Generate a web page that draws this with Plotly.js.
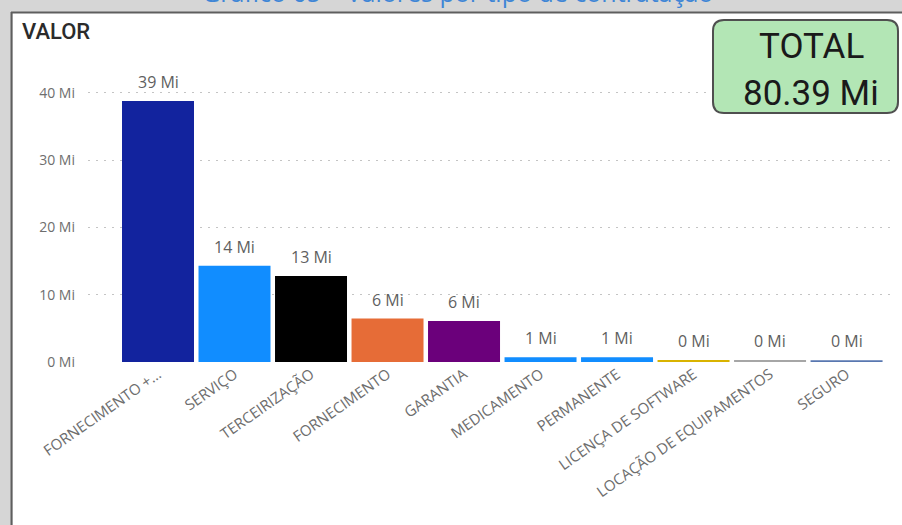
<!DOCTYPE html>
<html>
<head>
<meta charset="utf-8">
<script src="https://cdn.plot.ly/plotly-3.0.1.min.js"></script>
<style>
  html, body { margin: 0; padding: 0; background: #d6d6d6; }
  #chart { width: 902px; height: 525px; }
</style>
</head>
<body>
<div id="chart"></div>
<script>
// ---- data ----
const categories = ['FORNECIMENTO +…', 'SERVIÇO', 'TERCEIRIZAÇÃO', 'FORNECIMENTO', 'GARANTIA',
                    'MEDICAMENTO', 'PERMANENTE', 'LICENÇA DE SOFTWARE', 'LOCAÇÃO DE EQUIPAMENTOS', 'SEGURO'];
const values = [38.8, 14.3, 12.8, 6.45, 6.1, 0.7, 0.7, 0.3, 0.3, 0.25];
const barColors = ['#12239E', '#118DFF', '#000000', '#E66C37', '#6B007B',
                   '#118DFF', '#118DFF', '#D9B300', '#A6A6A6', '#5877B0'];
const yTickValues = [0, 10, 20, 30, 40];
const yTickLabels = ['0 Mi', '10 Mi', '20 Mi', '30 Mi', '40 Mi'];
const totalValue = 80.39;
const chartTitle = 'Gráfico 05 – Valores por tipo de contratação';
const axisTitle = 'VALOR';

// ---- layout geometry ----
const W = 902, H = 525;
const M = { l: 88, r: 9, t: 60, b: 163 };
const PW = W - M.l - M.r, PH = H - M.t - M.b;
const px = x => (x - M.l) / PW;            // pixel -> paper x
const py = y => (H - M.b - y) / PH;        // pixel -> paper y

function roundRect(x0, y0, x1, y1, r) {
  const rx = r / PW, ry = r / PH;
  const X0 = px(x0), X1 = px(x1), Y0 = py(y0), Y1 = py(y1); // Y0 top, Y1 bottom
  return `M ${X0 + rx} ${Y0} L ${X1 - rx} ${Y0} Q ${X1} ${Y0} ${X1} ${Y0 - ry} ` +
         `L ${X1} ${Y1 + ry} Q ${X1} ${Y1} ${X1 - rx} ${Y1} ` +
         `L ${X0 + rx} ${Y1} Q ${X0} ${Y1} ${X0} ${Y1 + ry} ` +
         `L ${X0} ${Y0 - ry} Q ${X0} ${Y0} ${X0 + rx} ${Y0} Z`;
}

const labelFont = 'Open Sans, Noto Sans, sans-serif';

const trace = {
  type: 'bar',
  x: categories,
  y: values,
  marker: { color: barColors, line: { width: 0 } },
  hoverinfo: 'x+y'
};

const dataLabels = categories.map((c, i) => ({
  x: c, y: values[i], xref: 'x', yref: 'y',
  text: Math.round(values[i]) + ' Mi',
  showarrow: false, yanchor: 'bottom', yshift: 6,
  font: { family: labelFont, size: 16, color: '#5f5f5f' }
}));

const layout = {
  width: W, height: H,
  margin: { l: M.l, r: M.r, t: M.t, b: M.b, pad: 0 },
  paper_bgcolor: '#d6d6d6',
  plot_bgcolor: 'rgba(0,0,0,0)',
  showlegend: false,
  bargap: 0.059,
  xaxis: {
    type: 'category',
    range: [-0.915, 9.607],
    tickangle: -35,
    tickfont: { family: labelFont, size: 15, color: '#6e6e6e' },
    showgrid: false, showline: false, zeroline: false, ticks: '',
    automargin: false, fixedrange: true
  },
  yaxis: {
    range: [0, 44.9],
    tickvals: yTickValues,
    ticktext: yTickLabels,
    tickfont: { family: labelFont, size: 14, color: '#6e6e6e' },
    showgrid: true, gridcolor: '#c4c4c4', griddash: '2px,6px', gridwidth: 1,
    zeroline: false, showline: false, ticks: '',
    ticklabelstandoff: 12,
    automargin: false, fixedrange: true
  },
  shapes: [
    // white panel
    { type: 'rect', xref: 'paper', yref: 'paper', layer: 'below',
      x0: px(13), x1: px(W + 2), y0: py(H + 2), y1: py(13),
      fillcolor: '#ffffff', line: { width: 0 } },
    // panel border (top and left)
    { type: 'line', xref: 'paper', yref: 'paper', layer: 'below',
      x0: px(11), x1: px(W + 2), y0: py(12.5), y1: py(12.5),
      line: { color: '#5e5e5e', width: 2 } },
    { type: 'line', xref: 'paper', yref: 'paper', layer: 'below',
      x0: px(11.5), x1: px(11.5), y0: py(12), y1: py(H + 2),
      line: { color: '#5e5e5e', width: 2 } },
    // TOTAL card
    { type: 'path', xref: 'paper', yref: 'paper', layer: 'above',
      path: roundRect(713, 20, 898, 113, 11),
      fillcolor: '#b3e6b5', line: { color: '#4f4f4f', width: 2 } }
  ],
  annotations: [
    { text: chartTitle, xref: 'paper', yref: 'paper', x: px(457), y: py(11),
      xanchor: 'center', yanchor: 'bottom', showarrow: false,
      font: { family: labelFont, size: 25, color: '#3f86d6' } },
    { text: axisTitle, xref: 'paper', yref: 'paper', x: px(20), y: py(31),
      xanchor: 'left', yanchor: 'middle', showarrow: false,
      font: { family: 'Roboto, sans-serif', size: 22, color: '#2b2b2b', weight: 500 } },
    { text: 'TOTAL', xref: 'paper', yref: 'paper', x: px(811), y: py(47),
      xanchor: 'center', yanchor: 'middle', showarrow: false,
      font: { family: 'Roboto, sans-serif', size: 35, color: '#1a1a1a' } },
    { text: totalValue.toFixed(2) + ' Mi', xref: 'paper', yref: 'paper', x: px(811), y: py(93),
      xanchor: 'center', yanchor: 'middle', showarrow: false,
      font: { family: 'Roboto, sans-serif', size: 35, color: '#1a1a1a' } }
  ].concat(dataLabels)
};

Plotly.newPlot('chart', [trace], layout, { displayModeBar: false, staticPlot: true });
</script>
</body>
</html>
